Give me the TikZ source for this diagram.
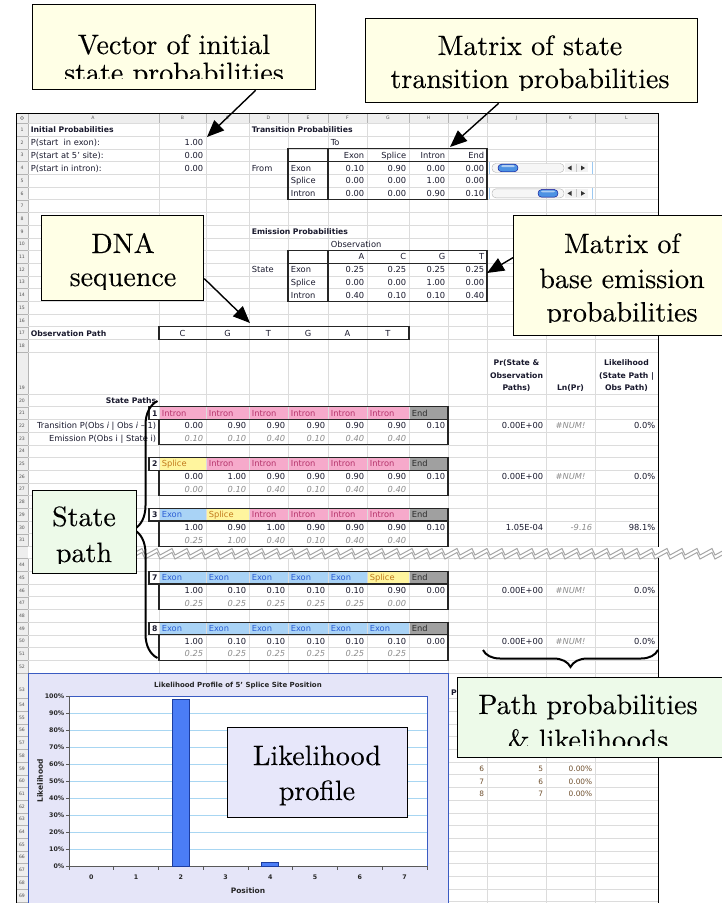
\documentclass[tikz,border=0pt]{standalone}
\usepackage{fontspec}
\setsansfont{DejaVu Sans}
\newfontfamily\callfont{lmroman10-regular}[Extension=.otf, FakeBold=0.2]
\usetikzlibrary{arrows.meta,decorations.pathreplacing}

\definecolor{txt}{HTML}{1A1A2E}
\definecolor{gridc}{HTML}{DCDCDC}
\definecolor{hdrfill}{HTML}{EEEEEE}
\definecolor{hdrline}{HTML}{B4B4B4}
\definecolor{hdrtxt}{HTML}{555555}
\definecolor{callY}{HTML}{FFFFE6}
\definecolor{callG}{HTML}{EDFAE9}
\definecolor{callL}{HTML}{E7E7FA}
\definecolor{intronF}{HTML}{F6AACB}
\definecolor{intronT}{HTML}{B5336B}
\definecolor{exonF}{HTML}{A9D3F6}
\definecolor{exonT}{HTML}{2B5ED4}
\definecolor{spliceF}{HTML}{FFF59E}
\definecolor{spliceT}{HTML}{C27A1C}
\definecolor{endF}{HTML}{A0A0A0}
\definecolor{endT}{HTML}{2C2C2C}
\definecolor{emisT}{HTML}{8C8C8C}
\definecolor{chartbg}{HTML}{E5E5F8}
\definecolor{chartbd}{HTML}{3A5BC2}
\definecolor{gridblue}{HTML}{A8D6F2}
\definecolor{barF}{HTML}{4B7DF6}
\definecolor{barD}{HTML}{1C3DA0}
\definecolor{zigc}{HTML}{A6A6A6}
\definecolor{sbblue}{HTML}{9CC9F2}
\definecolor{thumbc}{HTML}{4D92E3}
\definecolor{lowtxt}{HTML}{6E4E2C}

% state cell looks: fill, text colour, label
\def\fillI{intronF}\def\txtI{intronT}\def\lblI{Intron}
\def\fillE{exonF}\def\txtE{exonT}\def\lblE{Exon}
\def\fillS{spliceF}\def\txtS{spliceT}\def\lblS{Splice}
\def\fillN{endF}\def\txtN{endT}\def\lblN{End}

% column boundaries A..L and right edge
\def\cols{{28,159,206,249,288,328,367,409,448,487,546,595,658}}
\newcounter{cid}

% right / left / centred cell text: [style]{column}{row}{text}
\newcommand{\Rt}[4][]{\stepcounter{cid}%
  \pgfmathsetmacro\xx{\cols[#2+1]-2.6}%
  \node[cell,anchor=base east,#1] (c\arabic{cid}) at (\xx,{rt(#3)+9.4}) {#4};}
\newcommand{\Lt}[4][]{\stepcounter{cid}%
  \pgfmathsetmacro\xx{\cols[#2]+2.6}%
  \node[cell,anchor=base west,#1] (c\arabic{cid}) at (\xx,{rt(#3)+9.4}) {#4};}
\newcommand{\Ct}[4][]{\stepcounter{cid}%
  \pgfmathsetmacro\xa{\cols[#2]}%
  \pgfmathsetmacro\xb{\cols[#2+1]}%
  \pgfmathsetmacro\xx{(\xa+\xb)/2}%
  \node[cell,anchor=base,#1] (c\arabic{cid}) at (\xx,{rt(#3)+9.4}) {#4};}

% one state path block: {first row}{number}{states}{transition values}{emission values}
\newcommand{\pathtab}[5]{%
  \pgfmathsetmacro\ptop{rt(#1)}%
  \foreach \s [count=\i] in {#3}{%
    \pgfmathsetmacro\xl{\cols[\i]}%
    \pgfmathsetmacro\xr{\cols[\i+1]}%
    \edef\fc{\csname fill\s\endcsname}%
    \edef\tc{\csname txt\s\endcsname}%
    \fill[fill=\fc] (\xl+0.5,\ptop+0.5) rectangle (\xr-0.5,\ptop+12.2);
    \stepcounter{cid}%
    \node[cell,anchor=base west,text=\tc] (c\arabic{cid}) at (\xl+2.6,\ptop+9.4) {\csname lbl\s\endcsname};
  }%
  \foreach \v [count=\i] in {#4}{%
    \pgfmathsetmacro\xr{\cols[\i+1]-2.6}%
    \stepcounter{cid}%
    \node[cell,anchor=base east] (c\arabic{cid}) at (\xr,\ptop+22.1) {\v};
  }%
  \foreach \v [count=\i] in {#5}{%
    \pgfmathsetmacro\xr{\cols[\i+1]-2.6}%
    \stepcounter{cid}%
    \node[ecell,anchor=base east] (c\arabic{cid}) at (\xr,\ptop+34.8) {\v};
  }%
  \draw[tb] (149,\ptop) rectangle (448,\ptop+12.7);
  \draw[tb] (159,\ptop+12.7) rectangle (448,\ptop+38.1);
  \stepcounter{cid}%
  \node[bcell,anchor=base east] (c\arabic{cid}) at (157.8,\ptop+9.4) {#2};
}

% slider control in columns J-K: {row}{thumb left x}
\newcommand{\slider}[2]{%
  \pgfmathsetmacro\yc{rt(#1)+6.35}%
  \draw[sbblue, line width=1pt] (489.5,\yc-5.8) -- (489.5,\yc+5.8) (592.5,\yc-5.8) -- (592.5,\yc+5.8);
  \draw[gray!60, fill=gray!7, rounded corners=4pt] (492,\yc-4.5) rectangle (564,\yc+4.5);
  \draw[blue!55!black, fill=thumbc, rounded corners=3.6pt] (#2,\yc-3.8) rectangle (#2+20,\yc+3.8);
  \fill[white, opacity=0.55, rounded corners=1.5pt] (#2+3,\yc-2.8) rectangle (#2+17,\yc-0.9);
  \fill[gray!10] (565,\yc-4.5) rectangle (588,\yc+4.5);
  \draw[gray!45] (576.5,\yc-4) -- (576.5,\yc+4);
  \fill[black!80] (567.5,\yc) -- (571.5,\yc-2.4) -- (571.5,\yc+2.4) -- cycle;
  \fill[black!80] (585,\yc) -- (581,\yc-2.4) -- (581,\yc+2.4) -- cycle;
}

\begin{document}
\begin{tikzpicture}[x=1pt,y=-1pt,
  declare function={rt(\q)=(\q<20)?(123.5+(\q-1)*12.7):((\q<44)?(394+(\q-20)*12.7):((\q<54)?(558.6+(\q-44)*12.7):(698.5+(\q-54)*12.7)));},
  cell/.style={font=\sffamily\fontsize{8.3}{10}\selectfont, text=txt, inner sep=0pt},
  bcell/.style={cell, font=\sffamily\bfseries\fontsize{7.7}{9}\selectfont},
  ecell/.style={cell, font=\sffamily\itshape\fontsize{8.3}{10}\selectfont, text=emisT},
  lowcell/.style={cell, font=\sffamily\fontsize{7.4}{8.6}\selectfont, text=lowtxt},
  hdrlbl/.style={font=\sffamily\fontsize{4.6}{5}\selectfont, text=hdrtxt, inner sep=0pt},
  axl/.style={font=\sffamily\bfseries\fontsize{6.3}{7}\selectfont, text=black!85, inner sep=0pt},
  tb/.style={line width=1.1pt, draw=black!85},
  callbox/.style={draw=black, line width=1.3pt, inner sep=0pt, anchor=north west},
  ctext/.style={font=\callfont\fontsize{28}{33}\selectfont, inner sep=0pt, anchor=base, text=black},
  arr/.style={line width=1.4pt, -{Triangle[length=17pt,width=14pt]}},
  bracel/.style={decorate, line width=2pt},
]
\useasboundingbox (0,0) rectangle (722,903);
\clip (0,0) rectangle (722,903);
\fill[white] (0,0) rectangle (722,903);

% ---------- sheet headers ----------
\fill[hdrfill] (16,113) rectangle (658,123);
\fill[hdrfill] (16,113) rectangle (28,910);
\foreach \r in {1,...,32} \draw[hdrline, line width=0.4pt] (16,{rt(\r)}) -- (28,{rt(\r)});
\foreach \r in {44,...,70} \draw[hdrline, line width=0.4pt] (16,{rt(\r)}) -- (28,{rt(\r)});
\foreach \x in {28,159,206,249,288,328,367,409,448,487,546,595} \draw[hdrline, line width=0.4pt] (\x,113) -- (\x,123);
\draw[hdrline, line width=0.4pt] (16,123) -- (658,123) (28,123) -- (28,910);
\draw[hdrtxt, line width=0.3pt] (22,118) circle (1.6);
\foreach \l/\x in {A/93,B/182.5,C/227.5,D/268.5,E/308,F/347.5,G/388,H/428.5,I/467.5,J/516.5,K/570.5,L/626.5}
  \node[hdrlbl] (col\l) at (\x,118.3) {\l};
\foreach \r in {1,...,18} \node[hdrlbl] (row\r) at (22,{rt(\r)+6.35}) {\r};
\foreach \r in {20,...,31} \node[hdrlbl] (row\r) at (22,{rt(\r)+6.35}) {\r};
\foreach \r in {44,...,52} \node[hdrlbl] (row\r) at (22,{rt(\r)+6.35}) {\r};
\foreach \r in {54,...,69} \node[hdrlbl] (row\r) at (22,{rt(\r)+6.35}) {\r};
\node[hdrlbl] (row19) at (22,388) {19};
\node[hdrlbl] (row53) at (22,690) {53};

% ---------- grid ----------
\foreach \r in {1,...,32} \draw[gridc, line width=0.5pt] (28,{rt(\r)}) -- (658,{rt(\r)});
\foreach \r in {44,...,53} \draw[gridc, line width=0.5pt] (28,{rt(\r)}) -- (658,{rt(\r)});
\foreach \r in {54,...,70} \draw[gridc, line width=0.5pt] (448,{rt(\r)}) -- (658,{rt(\r)});
\foreach \x in {159,206,249,288,328,367,409} \draw[gridc, line width=0.5pt] (\x,123) -- (\x,673);
\foreach \x in {448,487,546,595} \draw[gridc, line width=0.5pt] (\x,123) -- (\x,910);

% ---------- initial and transition probabilities ----------
\Lt[bcell]{0}{1}{Initial Probabilities}
\Lt{0}{2}{P(start\ \ in exon):}
\Lt{0}{3}{P(start at 5' site):}
\Lt{0}{4}{P(start in intron):}
\Rt{1}{2}{1.00}
\Rt{1}{3}{0.00}
\Rt{1}{4}{0.00}
\Lt[bcell]{3}{1}{Transition Probabilities}
\Lt{5}{2}{To}
\Rt{5}{3}{Exon}\Rt{6}{3}{Splice}\Rt{7}{3}{Intron}\Rt{8}{3}{End}
\Lt{3}{4}{From}
\Lt{4}{4}{Exon}\Lt{4}{5}{Splice}\Lt{4}{6}{Intron}
\Rt{5}{4}{0.10}\Rt{6}{4}{0.90}\Rt{7}{4}{0.00}\Rt{8}{4}{0.00}
\Rt{5}{5}{0.00}\Rt{6}{5}{0.00}\Rt{7}{5}{1.00}\Rt{8}{5}{0.00}
\Rt{5}{6}{0.00}\Rt{6}{6}{0.00}\Rt{7}{6}{0.90}\Rt{8}{6}{0.10}
\draw[tb] (288,{rt(3)}) rectangle (487,{rt(7)});
\draw[tb] (328,{rt(3)}) -- (328,{rt(7)}) (288,{rt(4)}) -- (487,{rt(4)});
\slider{4}{498}
\slider{6}{538}

% ---------- emission probabilities ----------
\Lt[bcell]{3}{9}{Emission Probabilities}
\Lt{5}{10}{Observation}
\Rt{5}{11}{A}\Rt{6}{11}{C}\Rt{7}{11}{G}\Rt{8}{11}{T}
\Lt{3}{12}{State}
\Lt{4}{12}{Exon}\Lt{4}{13}{Splice}\Lt{4}{14}{Intron}
\Rt{5}{12}{0.25}\Rt{6}{12}{0.25}\Rt{7}{12}{0.25}\Rt{8}{12}{0.25}
\Rt{5}{13}{0.00}\Rt{6}{13}{0.00}\Rt{7}{13}{1.00}\Rt{8}{13}{0.00}
\Rt{5}{14}{0.40}\Rt{6}{14}{0.10}\Rt{7}{14}{0.10}\Rt{8}{14}{0.40}
\draw[tb] (288,{rt(11)}) rectangle (487,{rt(15)});
\draw[tb] (328,{rt(11)}) -- (328,{rt(15)}) (288,{rt(12)}) -- (487,{rt(12)});

% ---------- observation path ----------
\Lt[bcell]{0}{17}{Observation Path}
\Ct{1}{17}{C}\Ct{2}{17}{G}\Ct{3}{17}{T}\Ct{4}{17}{G}\Ct{5}{17}{A}\Ct{6}{17}{T}
\draw[tb] (159,{rt(17)}) rectangle (409,{rt(18)});

% ---------- result column headings ----------
\node[bcell,anchor=base] (hJ1) at (516.5,365) {Pr(State \&};
\node[bcell,anchor=base] (hJ2) at (516.5,378) {Observation};
\node[bcell,anchor=base] (hJ3) at (516.5,390.5) {Paths)};
\node[bcell,anchor=base] (hK) at (570.5,390.5) {Ln(Pr)};
\node[bcell,anchor=base] (hL1) at (626.5,365) {Likelihood};
\node[bcell,anchor=base] (hL2) at (626.5,378) {(State Path |};
\node[bcell,anchor=base] (hL3) at (626.5,390.5) {Obs Path)};

% ---------- state paths ----------
\Rt[bcell]{0}{20}{State Paths}
\Rt{0}{22}{Transition P(Obs \textit{i} | Obs \textit{i} -- 1)}
\Rt{0}{23}{Emission P(Obs i | State i)}
\pathtab{21}{1}{I,I,I,I,I,I,N}{0.00,0.90,0.90,0.90,0.90,0.90,0.10}{0.10,0.10,0.40,0.10,0.40,0.40}
\pathtab{25}{2}{S,I,I,I,I,I,N}{0.00,1.00,0.90,0.90,0.90,0.90,0.10}{0.00,0.10,0.40,0.10,0.40,0.40}
\pathtab{29}{3}{E,S,I,I,I,I,N}{1.00,0.90,1.00,0.90,0.90,0.90,0.10}{0.25,1.00,0.40,0.10,0.40,0.40}
\pathtab{45}{7}{E,E,E,E,E,S,N}{1.00,0.10,0.10,0.10,0.10,0.90,0.00}{0.25,0.25,0.25,0.25,0.25,0.00}
\pathtab{49}{8}{E,E,E,E,E,E,N}{1.00,0.10,0.10,0.10,0.10,0.10,0.00}{0.25,0.25,0.25,0.25,0.25,0.25}
\foreach \r in {22,26,46,50}{%
  \Rt{9}{\r}{0.00E+00}
  \Ct[ecell]{10}{\r}{\#NUM!}
  \Rt{11}{\r}{0.0\%}}
\Rt{9}{30}{1.05E-04}
\Rt[ecell]{10}{30}{-9.16}
\Rt{11}{30}{98.1\%}

% ---------- sheet frame ----------
\draw[black, line width=0.8pt] (16,910) -- (16,113) -- (658,113) -- (658,910);

% ---------- row break ----------
\fill[white] (28,546.9) rectangle (722,558.1);
\draw[zigc, line width=1pt] (130,555) \foreach \k in {0,...,39} { -- ({130+15*\k+12},548.5) -- ({130+15*\k+15},555) };
\draw[zigc, line width=1pt] (130,559) \foreach \k in {0,...,39} { -- ({130+15*\k+12},552.5) -- ({130+15*\k+15},559) };

% ---------- profile table beside the chart ----------
\node[bcell,anchor=base west] (pcol) at (451,695) {P};
\Rt[lowcell]{8}{59}{6}\Rt[lowcell]{9}{59}{5}\Rt[lowcell]{10}{59}{0.00\%}
\Rt[lowcell]{8}{60}{7}\Rt[lowcell]{9}{60}{6}\Rt[lowcell]{10}{60}{0.00\%}
\Rt[lowcell]{8}{61}{8}\Rt[lowcell]{9}{61}{7}\Rt[lowcell]{10}{61}{0.00\%}

% ---------- likelihood chart ----------
\fill[chartbg] (28,673) rectangle (448,910);
\draw[chartbd, line width=0.8pt] (28,910) -- (28,673) -- (448,673) -- (448,910);
\node[axl, font=\sffamily\bfseries\fontsize{7}{8}\selectfont] (ctitle) at (238,686) {Likelihood Profile of 5' Splice Site Position};
\fill[white] (69,696) rectangle (427,866);
\foreach \k in {1,...,9} \draw[gridblue, line width=0.8pt] (69,{866-17*\k}) -- (427,{866-17*\k});
\draw[chartbd, line width=0.7pt] (69,696) rectangle (427,866);
\draw[gray!70!black, line width=0.7pt] (69,696) -- (69,866) -- (427,866);
\foreach \k in {0,...,10}{%
  \pgfmathtruncatemacro\pc{10*\k}%
  \draw[gray!70!black, line width=0.6pt] (66,{866-17*\k}) -- (69,{866-17*\k});
  \node[axl, anchor=east] (yl\k) at (64.5,{866-17*\k}) {\pc\%};
}
\foreach \j in {0,...,8} \draw[gray!70!black, line width=0.6pt] ({69+44.75*\j},866) -- ({69+44.75*\j},870);
\foreach \j in {0,...,7} \node[axl] (xl\j) at ({91.4+44.75*\j},877.5) {\j};
\node[axl, font=\sffamily\bfseries\fontsize{7.5}{8}\selectfont] (xtitle) at (248,890.5) {Position};
\node[axl, font=\sffamily\bfseries\fontsize{7.5}{8}\selectfont, rotate=90] (ytitle) at (40,781) {Likelihood};
\draw[barD, fill=barF, line width=0.7pt] (172.5,866) rectangle (189.5,699.2);
\draw[barD, fill=barF, line width=0.7pt] (261.5,866) rectangle (278.5,862.6);

% ---------- braces ----------
\draw[bracel, decoration={brace, amplitude=24pt}] (157.5,658) -- (157.5,401);
\draw[bracel, decoration={brace, amplitude=17pt}] (658,650) -- (483,650);

% ---------- callouts ----------
\node[callbox, fill=callY, minimum width=283pt, minimum height=85pt] (vec) at (32,4) {};
\begin{scope}
  \clip (32,4) rectangle (315,78);
  \node[ctext] (vec1) at (174,54) {Vector of initial};
  \node[ctext] (vec2) at (174,82) {state probabilities};
\end{scope}

\node[callbox, fill=callY, minimum width=332pt, minimum height=84pt] (trn) at (365,18) {};
\begin{scope}
  \clip (365,18) rectangle (697,90);
  \node[ctext] (trn1) at (530,55) {Matrix of state};
  \node[ctext] (trn2) at (530,88) {transition probabilities};
\end{scope}

\node[callbox, fill=callY, minimum width=162pt, minimum height=85pt] (dna) at (41,215) {};
\begin{scope}
  \clip (41,215) rectangle (203,289);
  \node[ctext] (dna1) at (123,253) {DNA};
  \node[ctext] (dna2) at (123,286) {sequence};
\end{scope}

\node[callbox, fill=callY, minimum width=218pt, minimum height=120pt] (ems) at (513,215) {};
\begin{scope}
  \clip (513,215) rectangle (731,322);
  \node[ctext] (ems1) at (622,253) {Matrix of};
  \node[ctext] (ems2) at (622,288) {base emission};
  \node[ctext] (ems3) at (622,321.5) {probabilities};
\end{scope}

\node[callbox, fill=callG, minimum width=104pt, minimum height=83pt] (stp) at (32,490) {};
\begin{scope}
  \clip (32,490) rectangle (136,563);
  \node[ctext] (stp1) at (84,526) {State};
  \node[ctext] (stp2) at (84,562) {path};
\end{scope}

\node[callbox, fill=callG, minimum width=268pt, minimum height=80pt] (ppl) at (457,677) {};
\begin{scope}
  \clip (457,677) rectangle (725,745);
  \node[ctext] (ppl1) at (588,714) {Path probabilities};
  \node[ctext] (ppl2) at (588,749) {\& likelihoods};
\end{scope}

\node[callbox, fill=callL, minimum width=180pt, minimum height=90pt] (lkp) at (227,727) {};
\node[ctext] (lkp1) at (317,765) {Likelihood};
\node[ctext] (lkp2) at (317,800) {profile};

% ---------- pointers ----------
\coordinate (vecTip) at (207,137);
\coordinate (trnTip) at (450,147);
\coordinate (dnaTip) at (250,323);
\coordinate (emsTip) at (487,273);
\draw[arr] ([xshift=81.5pt]vec.south) -- (vecTip);
\draw[arr] ([xshift=-33pt]trn.south) -- (trnTip);
\draw[arr] ([yshift=-20.5pt]dna.east) -- (dnaTip);
\draw[arr] ([yshift=18pt]ems.west) -- (emsTip);
\end{tikzpicture}
\end{document}
